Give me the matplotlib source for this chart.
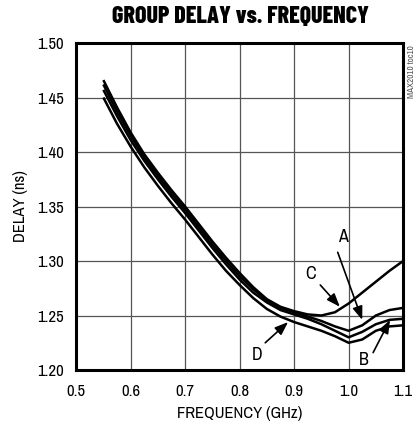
import numpy as np
import matplotlib
matplotlib.use("Agg")
import matplotlib.pyplot as plt

# narrow sans for everything, heavy condensed for the title
plt.rcParams['font.family'] = ['Liberation Sans Narrow', 'Archivo Narrow', 'DejaVu Sans']
title_font = ['Barlow Condensed', 'Asap Condensed', 'DejaVu Sans']

freq = [0.55, 0.575, 0.6, 0.625, 0.65, 0.675, 0.7, 0.725, 0.75, 0.775, 0.8, 0.825,
        0.85, 0.875, 0.9, 0.925, 0.95, 0.975, 1.0, 1.025, 1.05, 1.075, 1.1]
delay_c = [1.466, 1.441, 1.418, 1.398, 1.381, 1.365, 1.350, 1.334, 1.318, 1.303, 1.289, 1.276,
           1.265, 1.258, 1.254, 1.251, 1.250, 1.253, 1.261, 1.271, 1.281, 1.291, 1.300]
delay_a = [1.462, 1.437, 1.415, 1.395, 1.378, 1.362, 1.347, 1.331, 1.315, 1.300, 1.286, 1.274,
           1.264, 1.257, 1.253, 1.249, 1.245, 1.240, 1.236, 1.241, 1.250, 1.255, 1.257]
delay_b = [1.457, 1.433, 1.411, 1.392, 1.375, 1.359, 1.344, 1.328, 1.312, 1.297, 1.283, 1.271,
           1.262, 1.255, 1.251, 1.247, 1.242, 1.236, 1.230, 1.235, 1.242, 1.246, 1.247]
delay_d = [1.450, 1.426, 1.405, 1.386, 1.369, 1.353, 1.338, 1.322, 1.306, 1.291, 1.278, 1.266,
           1.256, 1.249, 1.244, 1.240, 1.236, 1.231, 1.225, 1.228, 1.236, 1.240, 1.241]

xticks = [0.5, 0.6, 0.7, 0.8, 0.9, 1.0, 1.1]
yticks = [1.20, 1.25, 1.30, 1.35, 1.40, 1.45, 1.50]

# label text pos, arrow tail, arrow head
labels = {
    "A": ((0.99, 1.322), (0.98, 1.308), (1.025, 1.246)),
    "B": ((1.028, 1.209), (1.045, 1.216), (1.076, 1.246)),
    "C": ((0.931, 1.288), (0.948, 1.278), (0.984, 1.258)),
    "D": ((0.832, 1.214), (0.847, 1.225), (0.889, 1.244)),
}

fig = plt.figure(figsize=(4.16, 4.30), dpi=100)
ax = fig.add_axes([0.183, 0.1395, 0.786, 0.7605])

for d in [delay_c, delay_a, delay_b, delay_d]:
    ax.plot(freq, d, color="black", lw=1.8, solid_capstyle="butt")

ax.set_xlim(0.5, 1.1)
ax.set_ylim(1.20, 1.50)
ax.set_xticks(xticks)
ax.set_yticks(yticks)
ax.set_xticklabels(["0.5", "0.6", "0.7", "0.8", "0.9", "1.0", "1.1"])
ax.set_yticklabels(["%.2f" % v for v in yticks])
ax.tick_params(length=0, labelsize=12)
ax.tick_params(axis="x", pad=10)
ax.tick_params(axis="y", pad=9)
ax.grid(True, color="#555555", lw=0.9)
for s in ax.spines.values():
    s.set_linewidth(2.2)

for name, (tp, tail, head) in labels.items():
    ax.text(tp[0], tp[1], name, fontsize=13, ha="center", va="center")
    ax.annotate("", xy=head, xytext=tail,
                arrowprops=dict(arrowstyle="-|>,head_length=0.8,head_width=0.3",
                                color="black", lw=1.2, shrinkA=0, shrinkB=0))

ax.set_xlabel("FREQUENCY (GHz)", fontsize=12, labelpad=5)
ax.set_ylabel("DELAY (ns)", fontsize=12, labelpad=6)
fig.text(0.579, 0.960, "GROUP DELAY vs. FREQUENCY", fontsize=17.3, fontweight="heavy",
         family=title_font, ha="center", va="center")
fig.text(0.988, 0.895, "MAX2010 toc10", fontsize=6.5, rotation=90, color="#555555",
         ha="center", va="top")

fig.savefig("out.png", dpi=100)
